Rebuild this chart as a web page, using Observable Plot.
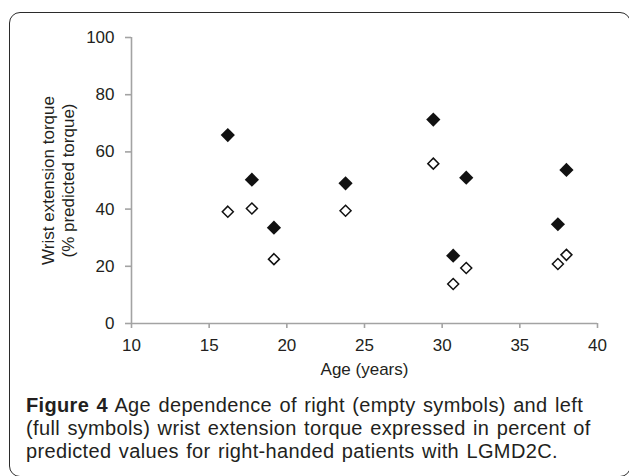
<!DOCTYPE html>
<html>
<head>
<meta charset="utf-8">
<script src="https://cdn.jsdelivr.net/npm/d3@7"></script>
<script src="https://cdn.jsdelivr.net/npm/@observablehq/plot@0.6"></script>
<style>
  html, body { margin: 0; padding: 0; background: #fff; }
  body { width: 629px; height: 476px; overflow: hidden; position: relative; }
  #frame { position: absolute; left: 9px; top: 12px; width: 622px; height: 465px;
           border: 1.5px solid #2b2b2b; border-radius: 11px; box-sizing: border-box; }
  #chart { position: absolute; left: 0; top: 0; }
  #caption { position: absolute; left: 26px; top: 394px; width: 603px;
             font-family: "Liberation Sans", Arial, sans-serif; font-size: 20px;
             letter-spacing: 0.35px; word-spacing: 1.5px; color: #231f20; white-space: nowrap; }
  #caption .line { display: block; height: 23px; line-height: 23px; }
  #caption b { font-weight: 700; }
</style>
</head>
<body>
<div id="frame"></div>
<div id="chart"></div>
<div id="caption"></div>
<script>
// Data
const ages       = [16.2, 17.75, 19.17, 23.78, 29.43, 30.71, 31.55, 37.45, 38.0];
const leftTorque = [65.9, 50.3, 33.5, 49.0, 71.3, 23.7, 51.0, 34.7, 53.7]; // full symbols
const rightTorque= [39.1, 40.2, 22.5, 39.4, 55.9, 13.8, 19.4, 20.8, 24.0]; // empty symbols
const xTicks = [10, 15, 20, 25, 30, 35, 40];
const yTicks = [0, 20, 40, 60, 80, 100];
const xTitle = "Age (years)";
const yTitle = "Wrist extension torque\n(% predicted torque)";
const captionLead = "Figure 4";
const captionLines = [
  " Age dependence of right (empty symbols) and left",
  "(full symbols) wrist extension torque expressed in percent of",
  "predicted values for right-handed patients with LGMD2C."
];

// caption
const cap = document.getElementById("caption");
captionLines.forEach((t, i) => {
  const d = document.createElement("div");
  d.className = "line";
  if (i === 0) {
    const b = document.createElement("b");
    b.textContent = captionLead;
    d.appendChild(b);
  }
  d.appendChild(document.createTextNode(t));
  cap.appendChild(d);
});

const leftData  = ages.map((a, i) => ({age: a, value: leftTorque[i]}));
const rightData = ages.map((a, i) => ({age: a, value: rightTorque[i]}));

const axisGray = "#a3a3a3";
const textCol = "#231f20";

const chart = Plot.plot({
  width: 629,
  height: 390,
  marginLeft: 131,
  marginRight: 32,
  marginTop: 37,
  marginBottom: 67,
  style: {fontFamily: "'Liberation Sans', Arial, sans-serif", fontSize: "17px", color: textCol, background: "transparent"},
  x: {domain: [10, 40]},
  y: {domain: [0, 100]},
  marks: [
    Plot.ruleX([10], {stroke: axisGray, strokeWidth: 1.6}),
    Plot.ruleY([0], {stroke: axisGray, strokeWidth: 1.6}),
    Plot.axisX({ticks: xTicks, tickSize: 5, tickPadding: 10, stroke: axisGray, strokeWidth: 1.6, fill: textCol, fontSize: 17, label: null}),
    Plot.axisY({ticks: yTicks, tickSize: 6, tickPadding: 11, stroke: axisGray, strokeWidth: 1.6, fill: textCol, fontSize: 17, label: null}),
    Plot.text([xTitle], {frameAnchor: "bottom", dy: 46, lineAnchor: "middle", fill: textCol, fontSize: 17}),
    Plot.text([yTitle], {frameAnchor: "left", rotate: -90, dx: -74, lineAnchor: "middle", textAnchor: "middle", lineHeight: 1.15, fill: textCol, fontSize: 17}),
    Plot.dot(rightData, {x: "age", y: "value", symbol: "diamond2", r: 4.95, fill: "white", stroke: "#111", strokeWidth: 1.5}),
    Plot.dot(leftData, {x: "age", y: "value", symbol: "diamond2", r: 6.4, fill: "#111", stroke: "none"})
  ]
});
document.getElementById("chart").appendChild(chart);
</script>
</body>
</html>
